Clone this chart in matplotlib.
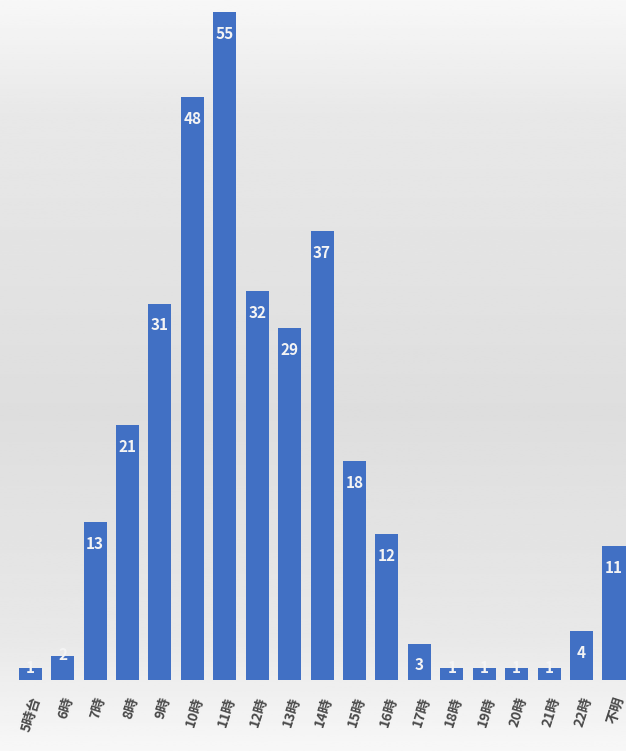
import numpy as np
import matplotlib
matplotlib.use("Agg")
import matplotlib.pyplot as plt

# hour-of-day categories and counts
categories = ["5時台", "6時", "7時", "8時", "9時", "10時", "11時", "12時", "13時",
              "14時", "15時", "16時", "17時", "18時", "19時", "20時", "21時", "22時", "不明"]
counts = [1, 2, 13, 21, 31, 48, 55, 32, 29, 37, 18, 12, 3, 1, 1, 1, 1, 4, 11]

plt.rcParams["font.family"] = ["Noto Sans CJK JP", "DejaVu Sans"]

fig = plt.figure(figsize=(6.26, 7.51), dpi=100)

# background gradient (light top, grey middle, light bottom)
bg = fig.add_axes([0, 0, 1, 1], zorder=0)
ys = np.linspace(0, 1, 256)
shade = np.interp(ys, [0.0, 0.15, 0.55, 0.85, 1.0], [0.97, 0.91, 0.87, 0.91, 0.97])
bg.imshow(shade[:, None], cmap="gray", vmin=0, vmax=1, aspect="auto",
          extent=[0, 1, 0, 1], origin="upper")
bg.axis("off")

ax = fig.add_axes([0, 0.0945, 1, 0.9055], zorder=1)
ax.patch.set_alpha(0)
x = np.arange(len(categories))
ax.bar(x, counts, width=0.71, color="#4170c4", zorder=2)

for xi, v in zip(x, counts):
    off = -10 if v >= 3 else 6
    ax.annotate(str(v), (xi, v), xytext=(0, off), textcoords="offset points",
                ha="center", va="top", color="#f4f4f4", fontsize=11,
                fontweight="bold", zorder=3)

ax.set_xlim(-0.93, 18.37)
ax.set_ylim(0, 56.0)
ax.set_yticks([])
ax.set_xticks(x)
ax.set_xticklabels(categories, rotation=72, ha="right", rotation_mode="anchor",
                   fontsize=10, fontweight="bold", fontstyle="italic", color="#4a4a4a")
ax.tick_params(axis="x", length=0, pad=11)
for side in ["top", "right", "left", "bottom"]:
    ax.spines[side].set_visible(False)

fig.savefig("out.png", dpi=100)
